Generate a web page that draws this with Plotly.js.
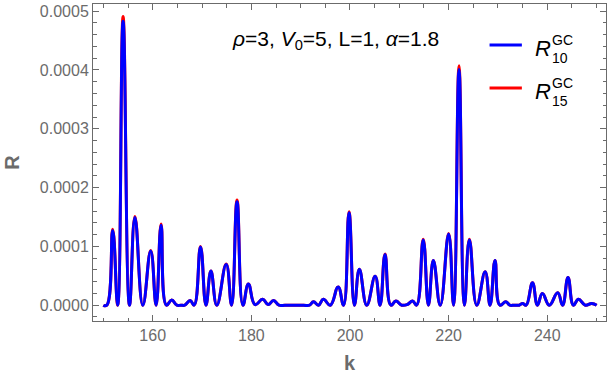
<!DOCTYPE html>
<html>
<head>
<meta charset="utf-8">
<script src="https://cdn.plot.ly/plotly-3.0.1.min.js"></script>
<style>
  body { margin: 0; background: #fff; }
  #chart { width: 607px; height: 380px; }
</style>
</head>
<body>
<div id="chart"></div>
<script>
// k values read at the peaks and troughs of the curves
var kVals = [150.0, 150.7, 151.9, 152.9, 154.0, 155.3, 156.4, 158.0, 159.6, 160.7,
             161.7, 162.8, 163.85, 164.9, 165.7, 166.5, 167.6, 168.4, 169.7, 170.8,
             171.8, 173.0, 174.9, 176.0, 177.1, 178.3, 179.4, 180.75, 182.3, 183.4,
             184.5, 185.6, 186.8, 188.0, 189.3, 190.6, 191.8, 192.6, 193.6, 194.6,
             196.0, 197.6, 198.7, 199.8, 200.9, 201.9, 203.4, 205.1, 206.1, 207.1,
             208.3, 209.3, 210.5, 211.6, 212.7, 213.5, 214.85, 215.9, 216.9, 218.3,
             220.0, 221.0, 222.1, 223.2, 224.2, 225.7, 227.4, 228.4, 229.4, 230.4,
             231.6, 232.4, 233.3, 234.3, 235.0, 235.7, 237.0, 238.0, 239.0, 240.4,
             242.1, 243.1, 244.2, 245.3, 246.3, 247.7, 249.0, 250.0];

// R values in units of 1e-4
var r10 = [0, 0, 1.27, 0, 4.83, 0, 1.49, 0, 0.92, 0,
           1.36, 0, 0.09, 0, 0, 0, 0.08, 0, 0.99, 0,
           0.58, 0, 0.69, 0, 1.76, 0, 0.36, 0.01, 0.10, 0.01,
           0.08, 0, 0, 0, 0, 0, 0, 0.06, 0, 0.10,
           0, 0.31, 0, 1.57, 0, 0.61, 0, 0.49, 0, 0.86,
           0, 0.07, 0, 0.01, 0.07, 0, 1.11, 0, 0.76, 0,
           1.21, 0, 4.01, 0, 1.11, 0, 0.57, 0, 0.76, 0,
           0.06, 0, 0, 0, 0.03, 0, 0.38, 0, 0.20, 0,
           0.21, 0, 0.47, 0, 0.10, 0, 0.03, 0];

var r15 = [0, 0, 1.29, 0, 4.91, 0, 1.51, 0, 0.93, 0,
           1.38, 0, 0.09, 0, 0, 0, 0.08, 0, 1.00, 0,
           0.58, 0, 0.70, 0, 1.79, 0, 0.36, 0.01, 0.10, 0.01,
           0.08, 0, 0, 0, 0, 0, 0, 0.06, 0, 0.10,
           0, 0.31, 0, 1.59, 0, 0.61, 0, 0.49, 0, 0.87,
           0, 0.07, 0, 0.01, 0.07, 0, 1.12, 0, 0.76, 0,
           1.22, 0, 4.07, 0, 1.12, 0, 0.57, 0, 0.76, 0,
           0.06, 0, 0, 0, 0.03, 0, 0.38, 0, 0.20, 0,
           0.21, 0, 0.47, 0, 0.10, 0, 0.03, 0];

var scale = 1e-4;
var grey = '#6b6b6b';
var fontFam = 'Liberation Sans, Arial, sans-serif';

var line15 = {
  x: kVals,
  y: r15.map(function (v) { return v * scale; }),
  type: 'scatter',
  mode: 'lines',
  name: 'R15',
  line: { color: '#ff0000', width: 3, shape: 'spline', smoothing: 1.3 }
};
var line10 = {
  x: kVals,
  y: r10.map(function (v) { return v * scale; }),
  type: 'scatter',
  mode: 'lines',
  name: 'R10',
  line: { color: '#0000ff', width: 3, shape: 'spline', smoothing: 1.3 }
};

var data = [line15, line10];

var tickFont = { family: fontFam, size: 16, color: grey };

var layout = {
  width: 607,
  height: 380,
  margin: { l: 93, r: 1, t: 4, b: 59 },
  paper_bgcolor: '#fff',
  plot_bgcolor: '#fff',
  showlegend: false,
  xaxis: {
    range: [147.9, 251.9],
    tickvals: [160, 180, 200, 220, 240],
    ticks: 'inside', ticklen: 6, tickcolor: grey, tickwidth: 1,
    minor: { dtick: 5, tick0: 150, ticks: 'inside', ticklen: 3.5, tickcolor: grey, showgrid: false },
    showline: true, linecolor: grey, linewidth: 1, mirror: 'ticks',
    showgrid: false, zeroline: false,
    tickfont: tickFont,
    title: { text: '<b>k</b>', font: { family: fontFam, size: 20, color: grey }, standoff: 12 }
  },
  yaxis: {
    range: [-0.0000269, 0.0005122],
    tickvals: [0, 0.0001, 0.0002, 0.0003, 0.0004, 0.0005],
    tickformat: '.4f',
    ticks: 'inside', ticklen: 6, tickcolor: grey, tickwidth: 1,
    minor: { dtick: 0.00002, tick0: 0, ticks: 'inside', ticklen: 3.5, tickcolor: grey, showgrid: false },
    showline: true, linecolor: grey, linewidth: 1, mirror: 'ticks',
    showgrid: false, zeroline: false,
    tickfont: tickFont,
    title: { text: '<b>R</b>', font: { family: fontFam, size: 20, color: grey }, standoff: 14 }
  },
  annotations: [
    {
      xref: 'paper', yref: 'paper', x: 0.472, y: 0.885, xanchor: 'center', yanchor: 'middle',
      text: '<i>ρ</i>=3, <i>V</i><sub>0</sub>=5, L=1, <i>α</i>=1.8',
      showarrow: false,
      font: { family: fontFam, size: 21, color: '#000' }
    },
    // legend labels
    { xref: 'paper', yref: 'paper', x: 0.857, y: 0.859, xanchor: 'left', yanchor: 'middle',
      text: '<i>R</i>', showarrow: false,
      font: { family: fontFam, size: 22, color: '#000' } },
    { xref: 'paper', yref: 'paper', x: 0.891, y: 0.858, xanchor: 'left', yanchor: 'middle',
      text: 'GC<br>10', showarrow: false, align: 'left',
      font: { family: fontFam, size: 14, color: '#000' } },
    { xref: 'paper', yref: 'paper', x: 0.857, y: 0.724, xanchor: 'left', yanchor: 'middle',
      text: '<i>R</i>', showarrow: false,
      font: { family: fontFam, size: 22, color: '#000' } },
    { xref: 'paper', yref: 'paper', x: 0.891, y: 0.722, xanchor: 'left', yanchor: 'middle',
      text: 'GC<br>15', showarrow: false, align: 'left',
      font: { family: fontFam, size: 14, color: '#000' } }
  ],
  shapes: [
    { type: 'line', xref: 'paper', yref: 'paper', x0: 0.773, x1: 0.836, y0: 0.871, y1: 0.871,
      line: { color: '#0000ff', width: 3 } },
    { type: 'line', xref: 'paper', yref: 'paper', x0: 0.773, x1: 0.836, y0: 0.735, y1: 0.735,
      line: { color: '#ff0000', width: 3 } }
  ]
};

Plotly.newPlot('chart', data, layout, { displayModeBar: false });
</script>
</body>
</html>
